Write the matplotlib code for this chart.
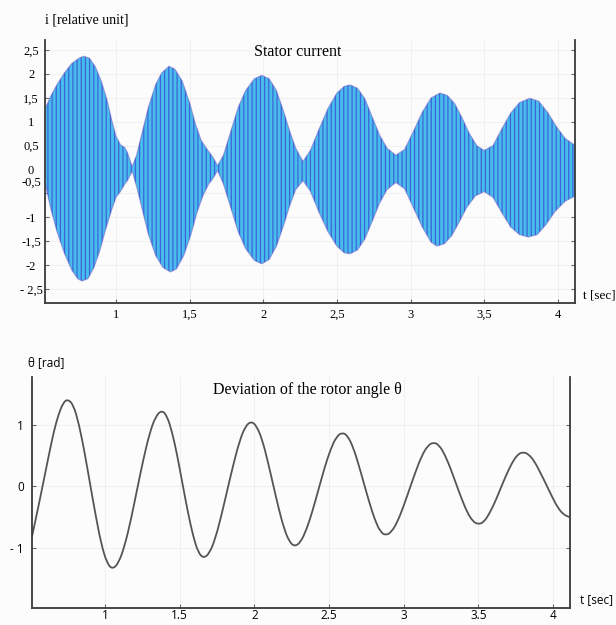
import matplotlib
matplotlib.use("Agg")
import numpy as np
import matplotlib.pyplot as plt
from matplotlib.path import Path
from matplotlib.patches import PathPatch
from matplotlib.transforms import ScaledTranslation

# --- stator current envelope ---
t_upper = [0.52, 0.56, 0.60, 0.65, 0.70, 0.75, 0.78, 0.82, 0.86, 0.90, 0.94, 0.97,
           1.00, 1.03, 1.06, 1.08, 1.11, 1.14, 1.18, 1.22, 1.27, 1.31, 1.36, 1.40,
           1.45, 1.50, 1.54, 1.58, 1.62, 1.66, 1.69, 1.73, 1.78, 1.83, 1.88, 1.94,
           1.99, 2.04, 2.09, 2.14, 2.18, 2.22, 2.27, 2.32, 2.38, 2.44, 2.50, 2.55,
           2.59, 2.64, 2.69, 2.74, 2.79, 2.84, 2.90, 2.96, 3.02, 3.08, 3.14, 3.20,
           3.25, 3.30, 3.35, 3.40, 3.45, 3.50, 3.56, 3.62, 3.68, 3.74, 3.81, 3.87,
           3.93, 3.99, 4.05, 4.12]
i_upper = [1.28, 1.55, 1.78, 2.02, 2.22, 2.33, 2.37, 2.33, 2.15, 1.85, 1.45, 1.05,
           0.70, 0.52, 0.46, 0.34, 0.06, 0.30, 0.80, 1.30, 1.78, 2.02, 2.16, 2.10,
           1.85, 1.40, 0.95, 0.60, 0.42, 0.25, 0.08, 0.30, 0.80, 1.30, 1.65, 1.90,
           1.97, 1.90, 1.65, 1.20, 0.80, 0.45, 0.17, 0.40, 0.85, 1.28, 1.60, 1.74,
           1.77, 1.70, 1.48, 1.10, 0.72, 0.45, 0.30, 0.42, 0.80, 1.20, 1.50, 1.60,
           1.55, 1.38, 1.08, 0.75, 0.50, 0.40, 0.50, 0.85, 1.18, 1.40, 1.49, 1.43,
           1.20, 0.90, 0.65, 0.50]
t_lower = [0.52, 0.56, 0.60, 0.65, 0.70, 0.74, 0.77, 0.81, 0.85, 0.89, 0.93, 0.97,
           1.00, 1.03, 1.06, 1.08, 1.11, 1.14, 1.18, 1.22, 1.27, 1.32, 1.37, 1.41,
           1.46, 1.51, 1.55, 1.59, 1.63, 1.66, 1.69, 1.73, 1.78, 1.83, 1.88, 1.94,
           1.99, 2.04, 2.09, 2.14, 2.18, 2.22, 2.27, 2.32, 2.38, 2.44, 2.50, 2.55,
           2.59, 2.64, 2.69, 2.74, 2.79, 2.84, 2.90, 2.96, 3.02, 3.08, 3.14, 3.18,
           3.23, 3.28, 3.33, 3.38, 3.44, 3.50, 3.56, 3.62, 3.68, 3.74, 3.80, 3.86,
           3.92, 3.98, 4.05, 4.12]
i_lower = [-0.30, -0.85, -1.30, -1.75, -2.10, -2.28, -2.33, -2.28, -2.05, -1.70, -1.25, -0.85,
           -0.58, -0.46, -0.30, -0.22, -0.03, -0.35, -0.85, -1.35, -1.80, -2.05, -2.14, -2.08,
           -1.80, -1.35, -0.90, -0.55, -0.30, -0.18, -0.02, -0.30, -0.80, -1.30, -1.65, -1.90,
           -1.97, -1.88, -1.60, -1.15, -0.75, -0.42, -0.23, -0.45, -0.90, -1.30, -1.60, -1.74,
           -1.76, -1.68, -1.45, -1.08, -0.70, -0.42, -0.27, -0.40, -0.80, -1.20, -1.52, -1.60,
           -1.55, -1.38, -1.10, -0.80, -0.55, -0.46, -0.58, -0.90, -1.20, -1.36, -1.41, -1.36,
           -1.15, -0.88, -0.66, -0.55]

# --- rotor angle deviation ---
t_theta = [0.51, 0.54, 0.57, 0.60, 0.63, 0.66, 0.69, 0.72,
           0.75, 0.788, 0.825, 0.863, 0.90, 0.938, 0.975, 1.013,
           1.05, 1.091, 1.133, 1.174, 1.215, 1.256, 1.298, 1.339,
           1.38, 1.415, 1.45, 1.485, 1.52, 1.555, 1.59, 1.625,
           1.66, 1.70, 1.74, 1.78, 1.82, 1.86, 1.90, 1.94,
           1.98, 2.016, 2.053, 2.089, 2.125, 2.161, 2.198, 2.234,
           2.27, 2.31, 2.35, 2.39, 2.43, 2.47, 2.51, 2.55,
           2.59, 2.626, 2.663, 2.699, 2.735, 2.771, 2.808, 2.844,
           2.88, 2.92, 2.96, 3.00, 3.04, 3.08, 3.12, 3.16,
           3.20, 3.238, 3.275, 3.313, 3.35, 3.388, 3.425, 3.463,
           3.50, 3.538, 3.575, 3.613, 3.65, 3.688, 3.725, 3.763,
           3.80, 3.839, 3.878, 3.916, 3.955, 3.994, 4.033, 4.071, 4.11]
theta = [-0.83, -0.49, -0.14, 0.22, 0.58, 0.92, 1.18, 1.36,
         1.42, 1.33, 1.02, 0.56, 0.04, -0.48, -0.94, -1.25,
         -1.35, -1.25, -0.96, -0.54, -0.05, 0.43, 0.86, 1.14,
         1.24, 1.15, 0.88, 0.49, 0.03, -0.42, -0.81, -1.08,
         -1.17, -1.09, -0.84, -0.47, -0.05, 0.36, 0.73, 0.98,
         1.06, 0.98, 0.76, 0.42, 0.04, -0.34, -0.68, -0.90,
         -0.98, -0.91, -0.70, -0.40, -0.05, 0.30, 0.60, 0.81,
         0.88, 0.82, 0.63, 0.35, 0.04, -0.27, -0.55, -0.74,
         -0.80, -0.74, -0.57, -0.32, -0.04, 0.24, 0.49, 0.66,
         0.72, 0.67, 0.52, 0.30, 0.05, -0.20, -0.42, -0.57,
         -0.62, -0.58, -0.44, -0.25, -0.03, 0.19, 0.38, 0.52,
         0.56, 0.52, 0.40, 0.22, 0.03, -0.17, -0.35, -0.46, -0.50]

xticks = [1, 1.5, 2, 2.5, 3, 3.5, 4]
xlabels_top = ['1', '1,5', '2', '2,5', '3', '3,5', '4']
xlabels_bot = ['1', '1.5', '2', '2.5', '3', '3.5', '4']
yticks_top = [2.5, 2, 1.5, 1, 0.5, 0, -0.5, -1, -1.5, -2, -2.5]
ylabels_top = ['2,5', '2', '1,5', '1', '0,5', '0', '-0,5', '-1', '-1,5', '-2', '- 2,5']
yticks_bot = [1, 0, -1]
ylabels_bot = ['1', '0', '- 1']

serif = 'Liberation Serif'
sans = 'Open Sans'
plt.rcParams['hatch.linewidth'] = 0.9

fig = plt.figure(figsize=(6.16, 6.25), dpi=100, facecolor='#fcfcfc')


def style_axes(ax):
    ax.set_facecolor('#fcfcfc')
    ax.spines['top'].set_visible(False)
    for s in ['left', 'bottom', 'right']:
        ax.spines[s].set_color('#3a3a3a')
        ax.spines[s].set_linewidth(1.3)
    ax.tick_params(direction='in', length=3, width=0.8, color='#666666',
                   left=True, right=True, bottom=True, top=False)
    ax.grid(True, color='#eeeeee', linewidth=0.6)
    ax.set_axisbelow(True)


def smooth_path(x, y):
    # quadratic bezier through the midpoints, so the curve is not drawn as a polyline
    pts = np.column_stack([x, y])
    mids = (pts[:-1] + pts[1:]) / 2
    verts = [pts[0], mids[0]]
    codes = [Path.MOVETO, Path.LINETO]
    for k in range(1, len(pts) - 1):
        verts += [pts[k], mids[k]]
        codes += [Path.CURVE3, Path.CURVE3]
    verts.append(pts[-1])
    codes.append(Path.LINETO)
    return Path(verts, codes)


# top panel: stator current
ax1 = fig.add_axes([0.073, 0.5152, 0.860, 0.4208])
style_axes(ax1)
ax1.fill(np.r_[t_upper, t_lower[::-1]], np.r_[i_upper, i_lower[::-1]],
         facecolor='#48bdec', edgecolor='#3d63da', hatch='||||', linewidth=0)
ax1.plot(t_upper, i_upper, color='#7a5cc4', lw=0.9, alpha=0.5)
ax1.plot(t_lower, i_lower, color='#7a5cc4', lw=0.9, alpha=0.5)
ax1.set_xlim(0.518, 4.115)
ax1.set_ylim(-2.79, 2.71)
ax1.set_xticks(xticks)
ax1.set_xticklabels(xlabels_top, family=serif, fontsize=9)
ax1.set_yticks(yticks_top)
ax1.set_yticklabels(ylabels_top, family=serif, fontsize=9, ha='center')
ax1.tick_params(axis='y', pad=10)
ax1.tick_params(axis='x', pad=4)
# the "-0,5" label sits just under "0" in the original
lab = ax1.get_yticklabels()[6]
lab.set_transform(lab.get_transform() + ScaledTranslation(0, 9 / 72, fig.dpi_scale_trans))
ax1.text(0.0, 1.076, 'i [relative unit]', transform=ax1.transAxes, family=serif,
         fontsize=10, ha='left', va='center')
ax1.text(0.477, 0.954, 'Stator current', transform=ax1.transAxes, family=serif,
         fontsize=11.5, ha='center', va='center')
ax1.text(1.015, 0.03, 't [sec]', transform=ax1.transAxes, family=serif,
         fontsize=9.5, ha='left', va='center')

# bottom panel: rotor angle
ax2 = fig.add_axes([0.0519, 0.0272, 0.8734, 0.3696])
style_axes(ax2)
ax2.add_patch(PathPatch(smooth_path(t_theta, theta), facecolor='none',
                        edgecolor='#555555', lw=1.3))
ax2.set_xlim(0.511, 4.114)
ax2.set_ylim(-1.98, 1.78)
ax2.set_xticks(xticks)
ax2.set_xticklabels(xlabels_bot, family=sans, fontsize=8.5)
ax2.set_yticks(yticks_bot)
ax2.set_yticklabels(ylabels_bot, family=sans, fontsize=8.5)
ax2.tick_params(axis='y', pad=6)
ax2.tick_params(axis='x', pad=0.5)
ax2.text(-0.007, 1.061, 'θ [rad]', transform=ax2.transAxes, family=sans,
         fontsize=8.5, ha='left', va='center')
ax2.text(0.512, 0.944, 'Deviation of the rotor angle θ', transform=ax2.transAxes,
         family=serif, fontsize=11.5, ha='center', va='center')
ax2.text(1.019, 0.035, 't [sec]', transform=ax2.transAxes, family=sans,
         fontsize=8.5, ha='left', va='center')

fig.savefig('out.png', dpi=100, facecolor=fig.get_facecolor())
